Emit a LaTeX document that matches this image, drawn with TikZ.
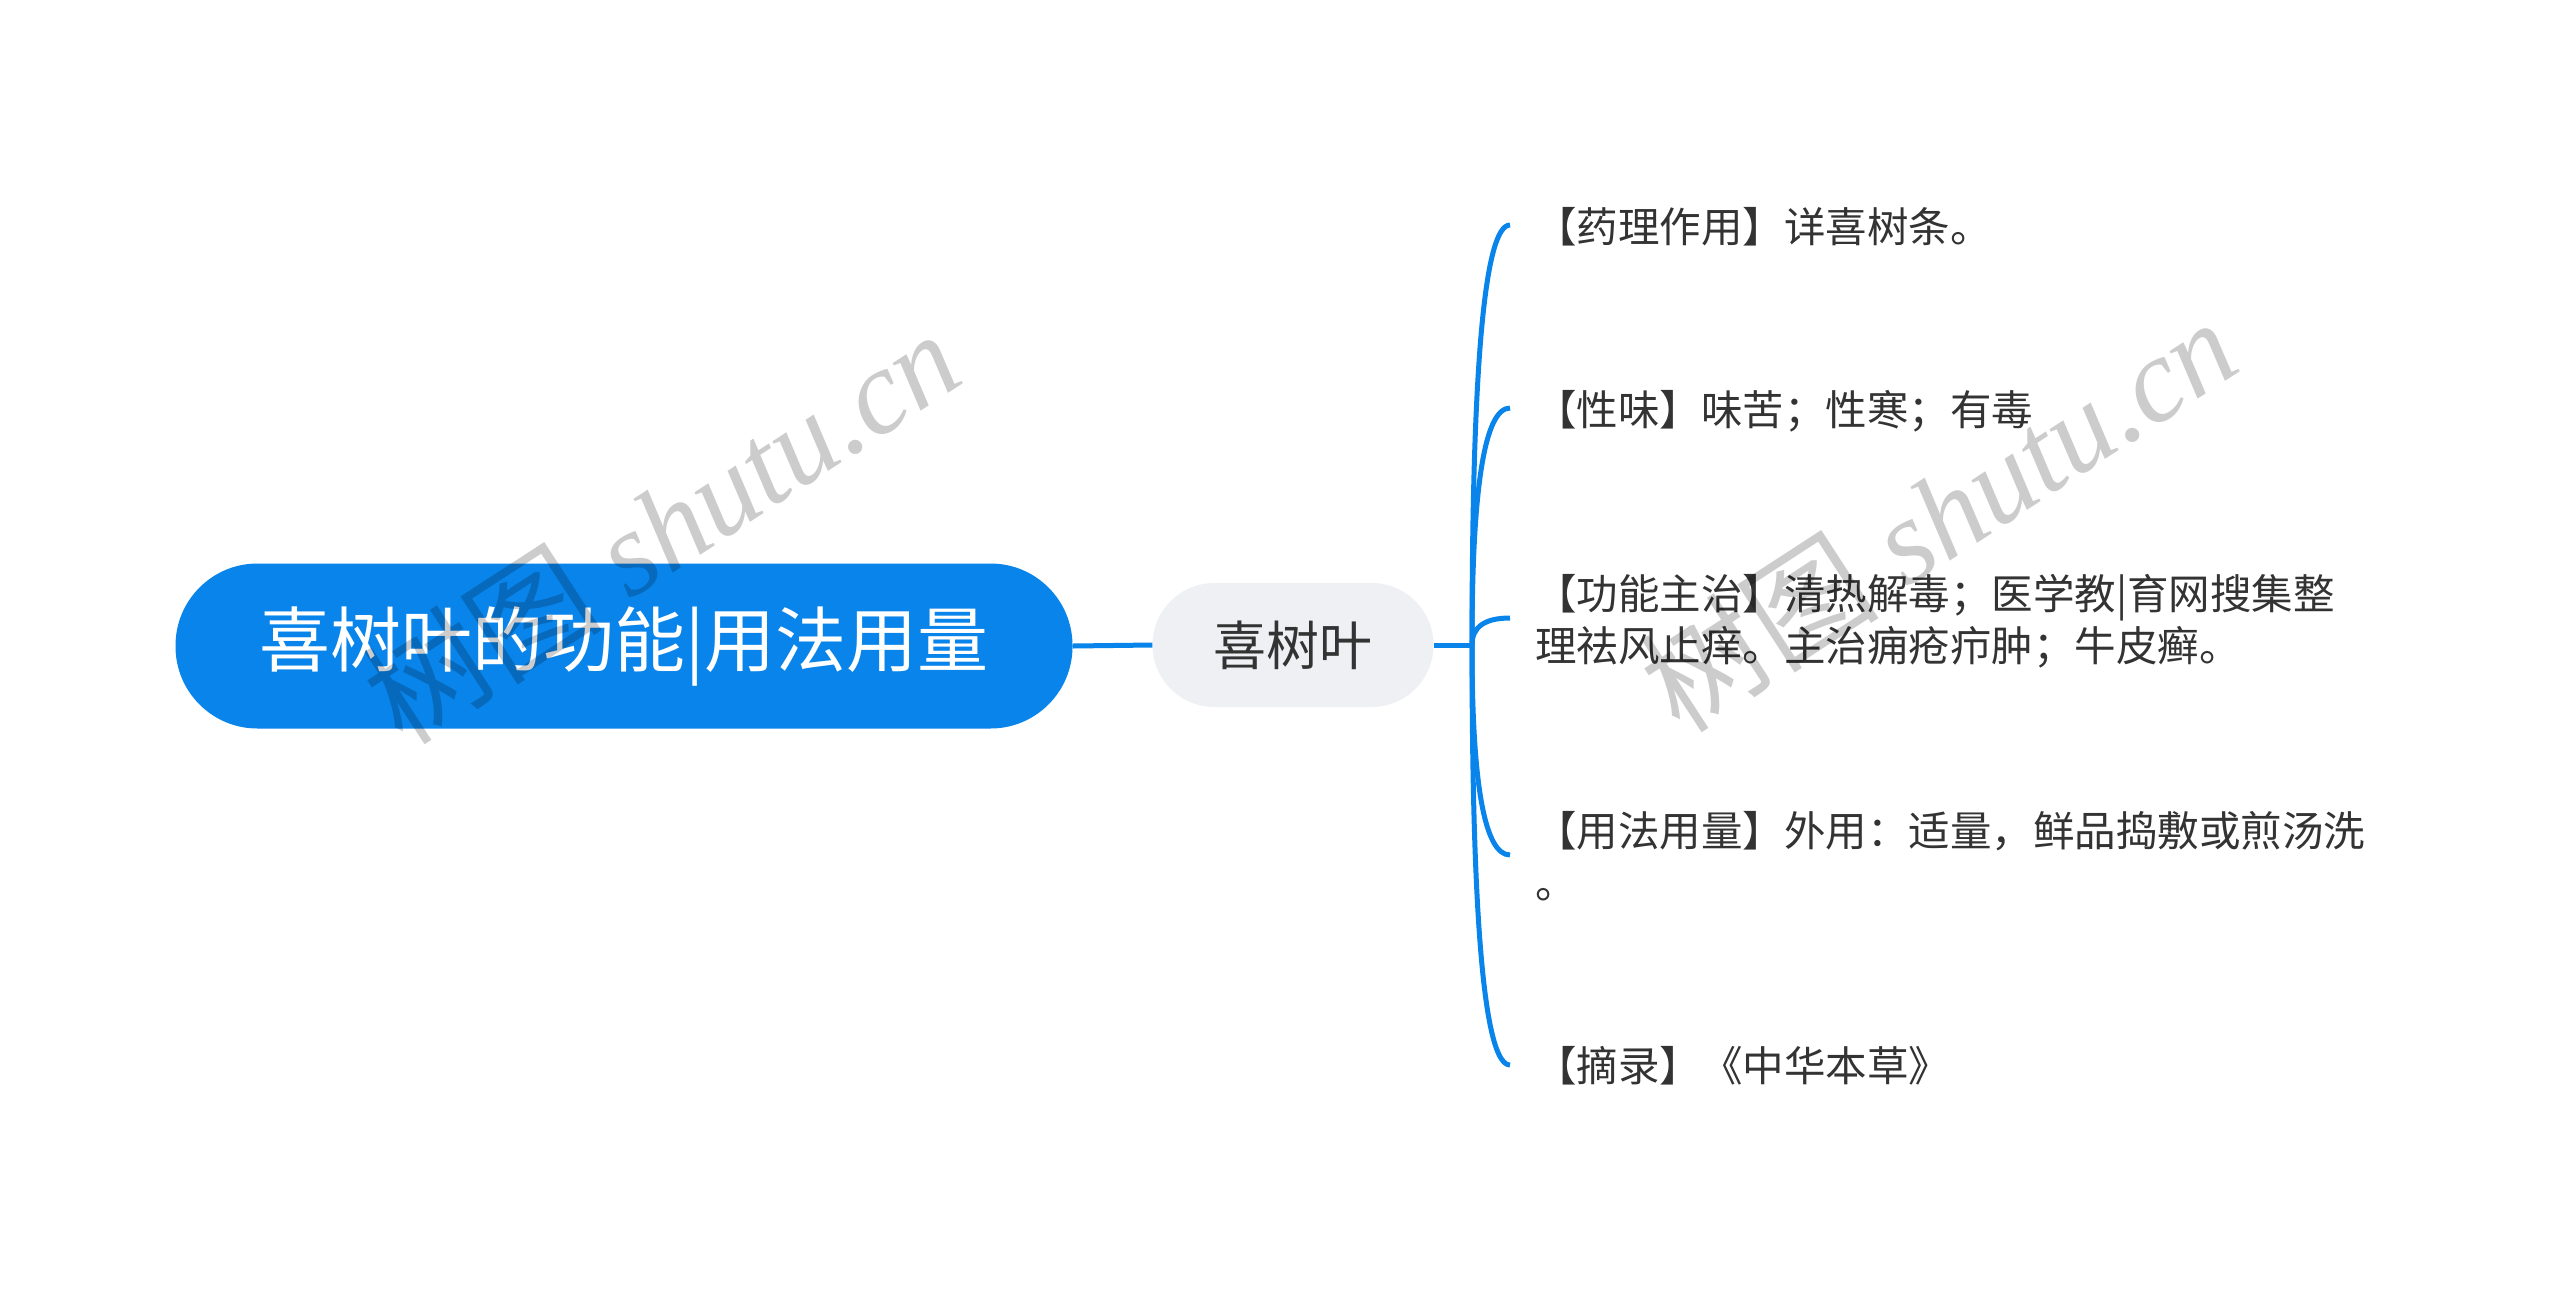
\documentclass[tikz,border=0pt]{standalone}
\usepackage{fontspec}
\usetikzlibrary{calc}
\newfontfamily\cjk{Noto Sans CJK SC}
\newfontfamily\wmserif{Liberation Serif}
\definecolor{mblue}{RGB}{8,132,234}
\definecolor{mgray}{RGB}{238,240,243}
\definecolor{ltext}{RGB}{51,51,51}
\begin{document}
\begin{tikzpicture}[x=1pt,y=-1pt,
  rootbox/.style={rectangle, rounded corners=82pt, fill=mblue, minimum width=897pt, minimum height=165pt, inner sep=0pt, text=white, font=\cjk\fontsize{71pt}{80pt}\selectfont},
  midbox/.style={rectangle, rounded corners=62pt, fill=mgray, minimum width=281pt, minimum height=124pt, inner sep=0pt, text=ltext, font=\cjk\fontsize{53pt}{60pt}\selectfont},
  leaf/.style={anchor=base west, inner sep=0pt, text=ltext, align=left, font=\cjk\fontsize{41.5pt}{52pt}\selectfont},
  conn/.style={draw=mblue, line width=5pt},
  wm/.style={text=black, opacity=0.2, font=\wmserif\itshape\fontsize{120pt}{125pt}\selectfont, inner sep=0pt}
]
\fill[white] (0,0) rectangle (2560,1291);
\useasboundingbox (0,0) rectangle (2560,1291);

\node[rootbox] (root) at (624,646) {喜树叶的功能|用法用量};
\node[midbox] (mid) at (1293,645) {喜树叶};

\node[leaf] (l1) at (1535,242) {【药理作用】详喜树条。};
\node[leaf] (l2) at (1535,425) {【性味】味苦；性寒；有毒};
\node[leaf] (l3) at (1535,661) {【功能主治】清热解毒；医学教|育网搜集整\\理祛风止痒。主治痈疮疖肿；牛皮癣。};
\node[leaf] (l4) at (1535,898) {【用法用量】外用：适量，鲜品捣敷或煎汤洗\\。};
\node[leaf] (l5) at (1535,1081) {【摘录】《中华本草》};

\coordinate (t) at (1472,645);
\coordinate (e1) at (1510,225);
\coordinate (e2) at (1510,408);
\coordinate (e3) at (1510,618);
\coordinate (e4) at (1510,855);
\coordinate (e5) at (1510,1065);

\draw[conn] (root.east) -- (mid.west);
\draw[conn] (mid.east) -- (t);
\foreach \e in {e1,e2,e3,e4,e5}{
  \draw[conn] (t) .. controls ($(t)!2/3!(t |- \e)$) and ($(\e)!2/3!(t |- \e)$) .. (\e);
}

\node[wm, rotate=33] (wm1) at (661,526) {{\cjk 树图} shutu.cn};
\node[wm, rotate=33] (wm2) at (1938,514) {{\cjk 树图} shutu.cn};
\end{tikzpicture}
\end{document}
